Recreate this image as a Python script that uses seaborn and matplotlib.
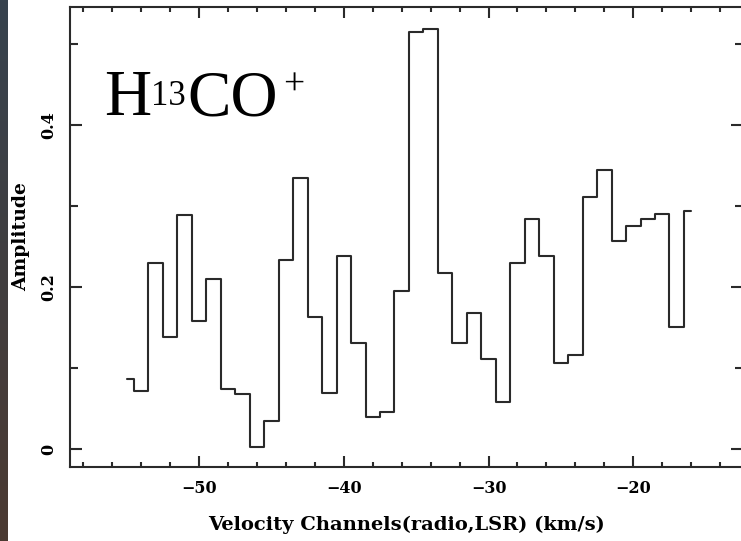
import numpy as np
import pandas as pd
import matplotlib
matplotlib.use("Agg")
import matplotlib.pyplot as plt
from matplotlib.ticker import MultipleLocator
import seaborn as sns

# Channel centre velocities (km/s) and measured amplitudes
velocity = [-55, -54, -53, -52, -51, -50, -49, -48, -47, -46,
            -45, -44, -43, -42, -41, -40, -39, -38, -37, -36,
            -35, -34, -33, -32, -31, -30, -29, -28, -27, -26,
            -25, -24, -23, -22, -21, -20, -19, -18, -17, -16]
amplitude = [0.087, 0.072, 0.230, 0.138, 0.289, 0.158, 0.210, 0.074, 0.068, 0.003,
             0.035, 0.234, 0.334, 0.163, 0.069, 0.238, 0.131, 0.040, 0.046, 0.195,
             0.515, 0.518, 0.217, 0.131, 0.168, 0.111, 0.058, 0.230, 0.284, 0.239,
             0.106, 0.116, 0.311, 0.344, 0.257, 0.276, 0.284, 0.290, 0.151, 0.294]

x_ticks = [-50, -40, -30, -20]
y_ticks = [0, 0.2, 0.4]
y_tick_labels = ["0", "0.2", "0.4"]

W, H = 741, 541
sns.set_theme(style="ticks")
plt.rcParams["font.family"] = ["DejaVu Serif"]
plt.rcParams["axes.unicode_minus"] = True

fig = plt.figure(figsize=(W / 100, H / 100), dpi=100)
fig.patch.set_facecolor("white")

ink = "#2a2a2a"

# dark slide edge on the left
strip = fig.add_axes([0, 0, 8 / W, 1])
grad = np.linspace(0, 1, 256)[:, None]
top_c = np.array([0x37, 0x43, 0x4e]) / 255
bot_c = np.array([0x4b, 0x3a, 0x32]) / 255
img = top_c[None, None, :] * (1 - grad[:, :, None]) + bot_c[None, None, :] * grad[:, :, None]
strip.imshow(img, aspect="auto", extent=[0, 1, 0, 1])
strip.set_axis_off()

left, right, top, bottom = 70, 743, 7, 467
ax = fig.add_axes([left / W, 1 - bottom / H, (right - left) / W, (bottom - top) / H])

df = pd.DataFrame({"velocity": velocity, "amplitude": amplitude})
sns.lineplot(data=df, x="velocity", y="amplitude", ax=ax, estimator=None,
             drawstyle="steps-mid", color=ink, linewidth=1.5)

ax.set_xlim(-58.915, -12.42)
ax.set_ylim(-0.0218, 0.5455)
ax.set_xticks(x_ticks)
ax.set_xticklabels([f"\u2212{abs(v)}" for v in x_ticks])
ax.set_yticks(y_ticks)
ax.set_yticklabels(y_tick_labels)
ax.xaxis.set_minor_locator(MultipleLocator(2))
ax.yaxis.set_minor_locator(MultipleLocator(0.1))

for s in ax.spines.values():
    s.set_visible(True)
    s.set_color(ink)
    s.set_linewidth(1.5)

ax.tick_params(which="both", direction="in", top=True, right=True,
               color=ink, width=1.5)
ax.tick_params(axis="x", which="major", length=8, pad=9.5,
               labelsize=11.5, labelcolor="black")
ax.tick_params(axis="x", which="minor", length=3.8)
ax.tick_params(axis="y", which="major", length=8.5, pad=9.5,
               labelsize=11.5, labelcolor="black", labelrotation=90)
ax.tick_params(axis="y", which="minor", length=5.5)
for lab in ax.get_xticklabels() + ax.get_yticklabels():
    lab.set_fontweight("bold")
for lab in ax.get_yticklabels():
    lab.set_va("center")

ax.set_xlabel("Velocity Channels(radio,LSR) (km/s)", fontsize=14,
              fontweight="bold", color="black")
ax.set_ylabel("Amplitude", fontsize=13.5, fontweight="bold", color="black")
ax.xaxis.set_label_coords(0.5, (bottom - 516) / (bottom - top))
ax.xaxis.label.set_va("top")
ax.yaxis.set_label_coords((30 - left) / (right - left), 0.5)
ax.set_facecolor("white")

# molecule name, set piece by piece in a Times-like face
def put(px, py, s, size):
    fig.text(px / W, 1 - py / H, s, fontsize=size, ha="left", va="baseline",
             family=["Liberation Serif"], color="black")

put(104, 115, "H", 47)
put(151, 105, "13", 25)
put(187, 115, "CO", 47)
put(283, 95, "+", 27)

fig.savefig("out.png", dpi=100)
